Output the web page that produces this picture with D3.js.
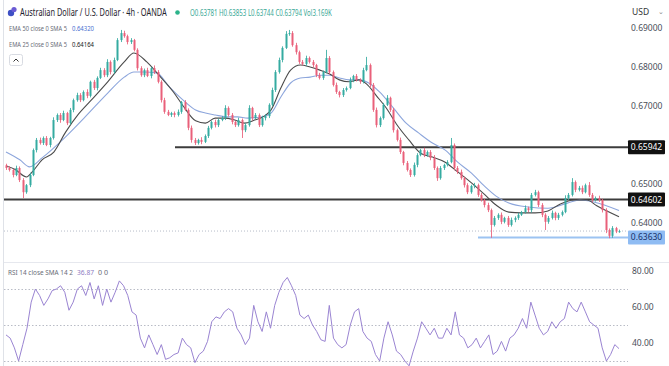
<!DOCTYPE html>
<html><head><meta charset="utf-8">
<script src="https://cdn.jsdelivr.net/npm/d3@7"></script>
<style>html,body{margin:0;padding:0;background:#fff;overflow:hidden}svg{display:block;font-family:"Noto Sans",sans-serif}</style>
</head><body><svg id="c" width="669" height="366"></svg>
<script>
// ---- DATA (prices in 1/10000 USD, i.e. pips) ----
const firstOpen = 6548;
const closes = [
6541,6536,6523,6541,6510,6479,6497,6523,6587,6613,
6605,6618,6600,6618,6664,6677,6664,6682,6656,6690,
6715,6728,6715,6736,6726,6762,6746,6772,6792,6779,
6813,6787,6818,6869,6887,6879,6864,6869,6844,6797,
6779,6792,6777,6797,6787,6762,6715,6685,6677,6682,
6677,6685,6710,6690,6644,6613,6605,6613,6608,6623,
6644,6659,6651,6664,6669,6695,6677,6659,6651,6664,
6638,6651,6695,6669,6677,6651,6669,6674,6703,6741,
6787,6818,6849,6885,6887,6856,6838,6813,6808,6823,
6813,6805,6779,6772,6787,6823,6787,6754,6736,6728,
6741,6746,6767,6777,6767,6762,6792,6805,6754,6690,
6651,6669,6703,6721,6690,6638,6613,6582,6554,6536,
6523,6549,6574,6587,6574,6582,6567,6541,6515,6541,
6549,6556,6600,6541,6531,6515,6497,6479,6495,6497,
6472,6459,6446,6433,6395,6413,6421,6403,6413,6395,
6408,6413,6421,6428,6438,6433,6472,6479,6446,6421,
6403,6413,6426,6413,6421,6428,6464,6472,6505,6485,
6490,6479,6497,6472,6459,6464,6459,6433,6382,6367,
6387,6378,6379];
const wickUp = [
4,5,3,6,4,5,3,6,4,5, 6,4,5,3,7,4,5,6,3,5, 4,6,5,4,7,3,5,4,6,5,
7,4,6,5,8,6,4,5,3,4, 5,4,6,3,7,5,4,6,5,3, 4,6,3,5,4,6,5,3,7,4,
5,3,6,4,5,7,4,5,3,6, 4,5,7,3,5,4,6,5,4,6, 5,6,4,7,8,5,6,4,5,6,
4,5,3,6,4,21,5,4,6,3, 5,4,6,3,5,4,6,21,4,5, 6,4,5,7,3,5,4,6,3,5,
4,6,5,3,6,4,5,7,4,5, 3,5,18,4,5,6,4,5,3,6, 4,5,3,6,4,5,4,6,3,5,
6,4,5,3,7,4,5,6,4,5, 4,5,6,3,5,4,7,5,10,4, 5,6,4,8,5,4,6,3,5,4,
5,3,4];
const wickDn = [
5,4,6,3,5,15,4,5,3,6, 4,5,3,6,4,5,7,3,5,4, 6,4,5,3,6,4,5,6,3,5,
5,6,4,3,5,4,6,5,4,6, 4,5,3,6,5,4,6,5,3,5, 6,4,5,3,6,7,5,4,6,3,
5,4,6,5,3,5,4,6,5,4, 20,5,4,6,3,5,4,6,5,4, 5,4,6,3,5,4,6,5,4,5,
4,6,5,4,5,3,6,4,5,6, 5,4,3,6,4,5,4,3,6,5, 6,5,4,3,5,6,4,5,6,4,
5,4,6,3,5,4,6,5,7,4, 5,4,3,6,5,4,6,5,4,6, 5,4,6,5,33,4,5,6,4,5,
4,6,5,3,4,5,6,4,5,6, 21,5,4,6,5,4,3,5,4,6, 4,5,3,5,6,4,5,6,8,6,
5,4,3];
// EMA 25 (black) read as [bar, pips]
const ema25 = [[0,6546],[2.6,6538],[6.1,6518],[7.8,6531],[10.7,6562],[14.2,6582],[17.7,6633],[21.5,6679],[25.3,6715],[30.2,6762],[35.1,6813],[38,6836],[41.8,6813],[45.6,6777],[49.7,6736],[52.6,6700],[56.3,6662],[59.2,6656],[62.1,6669],[65,6669],[67.9,6664],[70.8,6656],[73.8,6664],[76.7,6674],[78.7,6690],[81.6,6746],[84.5,6792],[87.4,6805],[90.3,6800],[93.2,6792],[96.1,6782],[99,6767],[101.9,6762],[104.8,6767],[107.1,6756],[110,6726],[112.9,6695],[115.9,6654],[119.6,6613],[123.1,6579],[126.6,6569],[130.4,6556],[134.1,6531],[138.2,6503],[142,6474],[145.5,6446],[149.3,6428],[153,6426],[157.1,6426],[160.9,6431],[164.6,6449],[168.7,6459],[172.5,6459],[175.4,6444],[182,6416]];
// EMA 50 (blue)
const ema50 = [[0,6582],[4.1,6562],[7,6544],[10.7,6567],[17.7,6621],[23.5,6672],[30.2,6733],[35.1,6774],[38,6787],[40.9,6787],[44.7,6785],[48.5,6749],[52.6,6715],[56.3,6690],[59.2,6682],[62.1,6677],[65.9,6672],[68.8,6672],[71.7,6669],[75.8,6672],[78.7,6682],[81.6,6723],[84.5,6759],[87.4,6772],[90.3,6774],[93.2,6779],[96.1,6779],[99,6772],[101.9,6767],[104.8,6767],[107.7,6759],[110.9,6736],[115,6695],[118.8,6656],[122.5,6631],[126.6,6605],[130.4,6587],[134.1,6556],[138.2,6528],[142,6495],[145.5,6469],[149.3,6451],[155,6441],[160.9,6438],[166.7,6451],[170.4,6459],[174.5,6454],[182,6432]];
const rsi = [
44.5,42.7,37.3,30,39.1,48.2,62.7,70,66.4,60.9,64.5,69.1,70,71.8,68.2,58.2,62.7,70,71.8,66.4,
73.6,64.5,71.8,60.9,70,62.7,68.2,74.5,71.8,66.4,57.3,55.5,42.7,37.3,44.5,39.1,33.6,39.1,30.9,31.8,
33.6,34.5,42.7,39.1,37.3,29.1,33.6,35.5,40.9,51.8,54.5,53.6,57.3,59.1,57.3,48.2,44.5,39.1,42.7,60.9,
51.8,46.4,57.3,48.2,60.9,68.2,73.6,76.4,71.8,66.4,55.5,53.6,55.5,50,46.4,41.8,40.9,60.9,42.7,39.1,
37.3,39.1,50,57.3,59.1,46.4,42.7,40.9,33.6,30,42.7,51.8,44.5,35.5,33.6,30,27.3,35.5,42.7,51.8,
48.2,44.5,48.2,42.7,42.7,48.2,44.5,57.3,44.5,42.7,37.3,39.1,42.7,37.3,40.9,44.5,33.6,35.5,40.9,35.5,
42.7,44.5,48.2,53.6,48.2,62.7,55.5,48.2,44.5,46.4,51.8,48.2,51.8,53.6,62.7,59.1,57.3,62.7,57.3,51.8,
50,48.2,37.3,30,33.6,39.1,36.87];
const hLines = [0.65942, 0.64602];
const supportLine = 0.63630;
const lastPrice = 0.63794;
const priceTicks = [0.69, 0.68, 0.67, 0.65, 0.64];
const rsiTicks = [80, 60, 40];
const rsiBands = [70, 50, 30];

// ---- DRAW ----
const svg = d3.select("#c");
const n = closes.length;
const P = v => v / 10000;
const candles = closes.map((c, i) => {
  const o = i === 0 ? firstOpen : closes[i - 1];
  return {i, o: P(o), c: P(c), h: P(Math.max(o, c) + wickUp[i]), l: P(Math.min(o, c) - wickDn[i])};
});
const x = d3.scaleLinear().domain([0, n - 1]).range([6, 619]);
const y = d3.scaleLinear().domain([0.64, 0.69]).range([223, 28]);
const ry = d3.scaleLinear().domain([30, 70]).range([361, 289]);
const rx = d3.scaleLinear().domain([0, rsi.length - 1]).range([6, 619]);

const defs = svg.append("defs");
defs.append("clipPath").attr("id", "pc").append("rect").attr("x", 4).attr("y", 20).attr("width", 624).attr("height", 240);
defs.append("clipPath").attr("id", "rc").append("rect").attr("x", 4).attr("y", 263).attr("width", 624).attr("height", 103);

// borders
svg.append("line").attr("x1", 3.5).attr("x2", 3.5).attr("y1", 0).attr("y2", 366).attr("stroke", "#dfe2e8");
svg.append("line").attr("x1", 4).attr("x2", 669).attr("y1", 262.5).attr("y2", 262.5).attr("stroke", "#e6e8ee");

const main = svg.append("g").attr("clip-path", "url(#pc)");
main.append("line").attr("x1", 4).attr("x2", 628).attr("y1", y(lastPrice)).attr("y2", y(lastPrice))
  .attr("stroke", "#b7bcc8").attr("stroke-dasharray", "1,2");
main.append("line").attr("x1", 175).attr("x2", 628).attr("y1", y(hLines[0])).attr("y2", y(hLines[0])).attr("stroke", "#3c3c3c").attr("stroke-width", 2);
main.append("line").attr("x1", 4).attr("x2", 628).attr("y1", y(hLines[1])).attr("y2", y(hLines[1])).attr("stroke", "#3c3c3c").attr("stroke-width", 2);
main.append("line").attr("x1", 478).attr("x2", 628).attr("y1", y(supportLine)).attr("y2", y(supportLine)).attr("stroke", "#9cc3f2").attr("stroke-width", 2);

const emaLine = d3.line().x(d => x(d[0])).y(d => y(P(d[1]))).curve(d3.curveMonotoneX);
main.append("path").attr("d", emaLine(ema50)).attr("fill", "none").attr("stroke", "#8da6dc").attr("stroke-width", 1.1);
main.append("path").attr("d", emaLine(ema25)).attr("fill", "none").attr("stroke", "#4b4b4b").attr("stroke-width", 1.1);

const up = "#35aba1", dn = "#e9607a";
const cg = main.append("g");
cg.selectAll("line.w").data(candles).join("line").attr("class", "w")
  .attr("x1", d => Math.round(x(d.i)) + 0.5).attr("x2", d => Math.round(x(d.i)) + 0.5)
  .attr("y1", d => y(d.h)).attr("y2", d => y(d.l))
  .attr("stroke", d => d.c >= d.o ? up : dn).attr("stroke-width", 1).attr("opacity", 0.85);
cg.selectAll("rect").data(candles).join("rect")
  .attr("x", d => Math.round(x(d.i)) - 0.5).attr("width", 2)
  .attr("y", d => y(Math.max(d.o, d.c))).attr("height", d => Math.max(1, Math.abs(y(d.o) - y(d.c))))
  .attr("fill", d => d.c >= d.o ? up : dn);

const pa = svg.append("g").attr("transform", "translate(629,0)")
  .call(d3.axisRight(y).tickValues(priceTicks).tickFormat(d3.format(".5f")).tickSize(0).tickPadding(2));
pa.select(".domain").remove();
pa.selectAll("text").attr("font-family", "Noto Sans").attr("font-size", 8.5).attr("fill", "#4a4e59");

function box(v, bg, fg) {
  svg.append("rect").attr("x", 628).attr("y", y(v) - 7).attr("width", 37).attr("height", 14).attr("fill", bg).attr("rx", 1);
  svg.append("text").attr("x", 646.5).attr("y", y(v) + 3).attr("text-anchor", "middle").attr("font-size", 8.5).attr("fill", fg).text(d3.format(".5f")(v));
}
box(hLines[0], "#111", "#fff");
box(hLines[1], "#111", "#fff");
box(supportLine, "#8fbcf3", "#16306a");

svg.append("text").attr("x", 632).attr("y", 15).attr("font-size", 8.5).attr("fill", "#333").text("USD");
svg.append("text").attr("x", 658).attr("y", 14).attr("font-size", 7).attr("fill", "#888").text("⌄");

// text squeezed horizontally to a measured width
function txt(s, xx, yy, size, col, len) {
  const t = svg.append("text").attr("font-size", size).attr("fill", col).text(s)
    .attr("transform", `translate(${xx},${yy})`);
  if (len) {
    const w = t.node().getComputedTextLength();
    t.attr("transform", `translate(${xx},${yy}) scale(${(len / w).toFixed(4)},1)`);
  }
  return t;
}
svg.append("circle").attr("cx", 11).attr("cy", 13).attr("r", 3.2).attr("fill", "#3d4fc4");
svg.append("circle").attr("cx", 14).attr("cy", 9.5).attr("r", 2.6).attr("fill", "#6a5bd4");
txt("Australian Dollar / U.S. Dollar · 4h · OANDA", 20, 16, 10, "#1e222d", 147);
svg.append("circle").attr("cx", 177.5).attr("cy", 12.5).attr("r", 2.3).attr("fill", "#2bb38a");
txt("O0.63781 H0.63853 L0.63744 C0.63794 Vol3.169K", 190, 15.5, 8.5, "#3aa896", 142);
txt("EMA 50 close 0 SMA 5", 9, 30.5, 8, "#6a6d78", 58);
txt("0.64320", 72, 30.5, 8, "#4a6fd0", 22);
txt("EMA 25 close 0 SMA 5", 9, 47, 8, "#6a6d78", 58);
txt("0.64164", 72, 47, 8, "#222", 22);
svg.append("rect").attr("x", 9.5).attr("y", 54.5).attr("width", 13).attr("height", 11).attr("fill", "#fff").attr("stroke", "#d8dbe2").attr("rx", 2);
svg.append("path").attr("d", "M13.5,61.5 L16,59 L18.5,61.5").attr("fill", "none").attr("stroke", "#333").attr("stroke-width", 1);

const rg = svg.append("g").attr("clip-path", "url(#rc)");
rg.selectAll("line.b").data(rsiBands).join("line").attr("class", "b")
  .attr("x1", 4).attr("x2", 628).attr("y1", d => ry(d) + 0.5).attr("y2", d => ry(d) + 0.5)
  .attr("stroke", "#b9bcc6").attr("stroke-dasharray", "1.5,2");
rg.append("path").attr("d", d3.line().x((d, i) => rx(i)).y(d => ry(d))(rsi))
  .attr("fill", "none").attr("stroke", "#9a84d2").attr("stroke-width", 1);
const ra = svg.append("g").attr("transform", "translate(629,0)")
  .call(d3.axisRight(ry).tickValues(rsiTicks).tickFormat(d3.format(".2f")).tickSize(0).tickPadding(3));
ra.select(".domain").remove();
ra.selectAll("text").attr("font-family", "Noto Sans").attr("font-size", 8.5).attr("fill", "#4a4e59");
txt("RSI 14 close SMA 14 2", 8, 275, 7.5, "#6a6d78", 65);
txt("36.87", 77, 275, 7.5, "#8e7cc3", 17);
txt("0 0", 98, 275, 7.5, "#6a6d78", 10);
</script></body></html>
